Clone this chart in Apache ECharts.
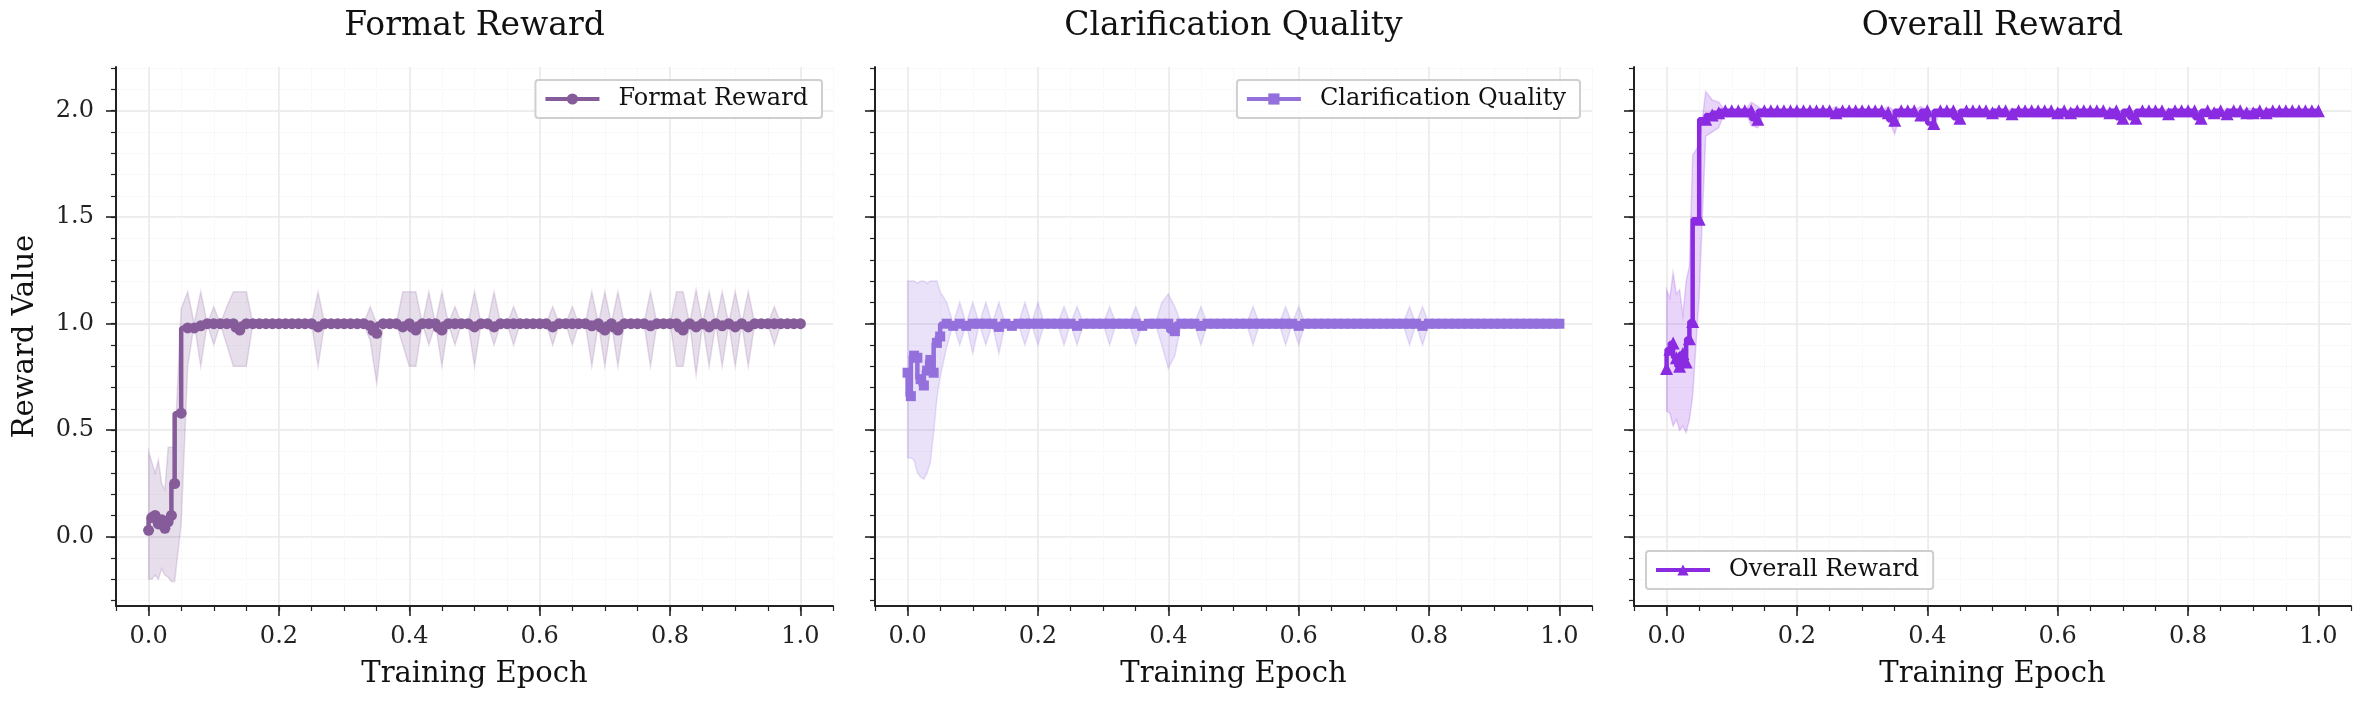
<!DOCTYPE html>
<html>
<head>
<meta charset="utf-8">
<title>Reward curves</title>
<script src="https://cdn.jsdelivr.net/npm/echarts@6/dist/echarts.min.js"></script>
<style>
  html, body { margin: 0; padding: 0; background: #fff; }
  #chart { width: 2364px; height: 706px; }
</style>
</head>
<body>
<div id="chart"></div>
<script>
// epochs for Format Reward / Overall Reward
var epochsA = [0, 0.005, 0.01, 0.015, 0.02, 0.025, 0.03, 0.035, 0.04,
  0.05, 0.06, 0.07, 0.08, 0.09, 0.1, 0.11, 0.12, 0.13, 0.14,
  0.15, 0.16, 0.17, 0.18, 0.19, 0.2, 0.21, 0.22, 0.23, 0.24,
  0.25, 0.26, 0.27, 0.28, 0.29, 0.3, 0.31, 0.32, 0.33, 0.34,
  0.35, 0.36, 0.37, 0.38, 0.39, 0.4, 0.41, 0.42, 0.43, 0.44,
  0.45, 0.46, 0.47, 0.48, 0.49, 0.5, 0.51, 0.52, 0.53, 0.54,
  0.55, 0.56, 0.57, 0.58, 0.59, 0.6, 0.61, 0.62, 0.63, 0.64,
  0.65, 0.66, 0.67, 0.68, 0.69, 0.7, 0.71, 0.72, 0.73, 0.74,
  0.75, 0.76, 0.77, 0.78, 0.79, 0.8, 0.81, 0.82, 0.83, 0.84,
  0.85, 0.86, 0.87, 0.88, 0.89, 0.9, 0.91, 0.92, 0.93, 0.94,
  0.95, 0.96, 0.97, 0.98, 0.99, 1.0];
// epochs for Clarification Quality
var epochsB = [0, 0.005, 0.01, 0.015, 0.02, 0.025, 0.03, 0.035, 0.04, 0.045,
  0.05, 0.06, 0.07, 0.08, 0.09, 0.1, 0.11, 0.12, 0.13, 0.14,
  0.15, 0.16, 0.17, 0.18, 0.19, 0.2, 0.21, 0.22, 0.23, 0.24,
  0.25, 0.26, 0.27, 0.28, 0.29, 0.3, 0.31, 0.32, 0.33, 0.34,
  0.35, 0.36, 0.37, 0.38, 0.39, 0.4, 0.41, 0.42, 0.43, 0.44,
  0.45, 0.46, 0.47, 0.48, 0.49, 0.5, 0.51, 0.52, 0.53, 0.54,
  0.55, 0.56, 0.57, 0.58, 0.59, 0.6, 0.61, 0.62, 0.63, 0.64,
  0.65, 0.66, 0.67, 0.68, 0.69, 0.7, 0.71, 0.72, 0.73, 0.74,
  0.75, 0.76, 0.77, 0.78, 0.79, 0.8, 0.81, 0.82, 0.83, 0.84,
  0.85, 0.86, 0.87, 0.88, 0.89, 0.9, 0.91, 0.92, 0.93, 0.94,
  0.95, 0.96, 0.97, 0.98, 0.99, 1.0];

// Format Reward
var formatMean = [0.03, 0.09, 0.1, 0.06, 0.08, 0.04, 0.07, 0.1, 0.25,
  0.58, 0.98, 0.98, 0.99, 1, 1, 1, 1, 1, 0.97,
  1, 1, 1, 1, 1, 1, 1, 1, 1, 1,
  1, 0.985, 1, 1, 1, 1, 1, 1, 1, 0.99,
  0.955, 1, 1, 1, 0.985, 1, 0.97, 1, 1, 1,
  0.97, 1, 1, 1, 1, 0.985, 1, 1, 0.985, 1,
  1, 1, 1, 1, 1, 1, 1, 0.985, 1, 1,
  1, 1, 1, 0.99, 1, 0.97, 1, 0.97, 1, 1,
  1, 1, 0.99, 1, 1, 1, 1, 0.97, 1, 0.985,
  1, 0.985, 1, 0.99, 1, 0.985, 1, 0.985, 1, 1,
  1, 1, 1, 1, 1, 1];
var formatLow = [-0.2, -0.2, -0.18, -0.2, -0.15, -0.18, -0.19, -0.21, -0.21,
  0.06, 0.8, 1, 0.8, 1, 0.9, 1, 0.9, 0.8, 0.8,
  0.8, 1, 1, 1, 1, 1, 1, 1, 1, 1,
  1, 0.8, 1, 1, 1, 1, 1, 1, 1, 0.92,
  0.72, 1, 1, 1, 0.9, 0.8, 0.8, 1, 0.9, 1,
  0.8, 1, 0.9, 1, 1, 0.8, 1, 1, 0.9, 1,
  1, 0.9, 1, 1, 1, 1, 1, 0.9, 1, 1,
  0.9, 1, 1, 0.8, 1, 0.8, 1, 0.8, 1, 1,
  1, 1, 0.8, 1, 1, 1, 0.8, 0.8, 1, 0.76,
  1, 0.8, 1, 0.8, 1, 0.8, 1, 0.8, 1, 1,
  1, 0.9, 1, 1, 1, 1];
var formatHigh = [0.4, 0.35, 0.3, 0.36, 0.25, 0.22, 0.42, 0.42, 0.42,
  1.07, 1.15, 1, 1.15, 1, 1.08, 1, 1.08, 1.15, 1.15,
  1.15, 1, 1, 1, 1, 1, 1, 1, 1, 1,
  1, 1.15, 1, 1, 1, 1, 1, 1, 1, 1.08,
  1.0, 1, 1, 1, 1.15, 1.15, 1.15, 1, 1.15, 1,
  1.15, 1, 1.08, 1, 1, 1.15, 1, 1, 1.15, 1,
  1, 1.08, 1, 1, 1, 1, 1, 1.08, 1, 1,
  1.08, 1, 1, 1.15, 1, 1.15, 1, 1.15, 1, 1,
  1, 1, 1.15, 1, 1, 1, 1.15, 1.15, 1, 1.16,
  1, 1.15, 1, 1.15, 1, 1.15, 1, 1.15, 1, 1,
  1, 1.08, 1, 1, 1, 1];

// Clarification Quality
var clarityMean = [0.77, 0.66, 0.85, 0.84, 0.74, 0.71, 0.78, 0.83, 0.77, 0.91,
  0.94, 1, 0.99, 1, 0.99, 1, 1, 1, 1, 0.985,
  1, 0.99, 1, 1, 1, 1, 1, 1, 1, 1,
  1, 0.99, 1, 1, 1, 1, 1, 1, 1, 1,
  1, 0.99, 1, 1, 1, 1, 0.965, 1, 1, 1,
  0.99, 1, 1, 1, 1, 1, 1, 1, 1, 1,
  1, 1, 1, 1, 1, 0.99, 1, 1, 1, 1,
  1, 1, 1, 1, 1, 1, 1, 1, 1, 1,
  1, 1, 1, 1, 0.99, 1, 1, 1, 1, 1,
  1, 1, 1, 1, 1, 1, 1, 1, 1, 1,
  1, 1, 1, 1, 1, 1];
var clarityLow = [0.37, 0.37, 0.36, 0.3, 0.28, 0.27, 0.3, 0.35, 0.49, 0.65,
  0.75, 0.89, 1, 0.9, 1, 0.86, 1, 0.9, 1, 0.86,
  1, 1, 1, 0.9, 1, 0.9, 1, 1, 1, 0.9,
  1, 0.9, 1, 1, 1, 1, 0.9, 1, 1, 1,
  0.9, 1, 1, 1, 0.9, 0.79, 0.85, 1, 1, 1,
  0.9, 1, 1, 1, 1, 1, 1, 1, 0.9, 1,
  1, 1, 1, 0.9, 1, 0.9, 1, 1, 1, 1,
  1, 1, 1, 1, 1, 1, 1, 1, 1, 1,
  1, 1, 0.9, 1, 0.9, 1, 1, 1, 1, 1,
  1, 1, 1, 1, 1, 1, 1, 1, 1, 1,
  1, 1, 1, 1, 1, 1];
var clarityHigh = [1.2, 1.2, 1.2, 1.19, 1.2, 1.2, 1.19, 1.2, 1.2, 1.2,
  1.15, 1.1, 1, 1.1, 1, 1.1, 1, 1.1, 1, 1.1,
  1, 1, 1, 1.1, 1, 1.1, 1, 1, 1, 1.08,
  1, 1.08, 1, 1, 1, 1, 1.08, 1, 1, 1,
  1.08, 1, 1, 1, 1.1, 1.14, 1.08, 1, 1, 1,
  1.08, 1, 1, 1, 1, 1, 1, 1, 1.08, 1,
  1, 1, 1, 1.08, 1, 1.08, 1, 1, 1, 1,
  1, 1, 1, 1, 1, 1, 1, 1, 1, 1,
  1, 1, 1.08, 1, 1.08, 1, 1, 1, 1, 1,
  1, 1, 1, 1, 1, 1, 1, 1, 1, 1,
  1, 1, 1, 1, 1, 1];

// Overall Reward
var overallMean = [0.79, 0.88, 0.91, 0.84, 0.8, 0.86, 0.82, 0.93, 1.01,
  1.49, 1.96, 1.98, 1.99, 2, 2, 2, 2, 2, 1.96,
  2, 2, 2, 2, 2, 2, 2, 2, 2, 2,
  2, 1.99, 2, 2, 2, 2, 2, 2, 2, 1.99,
  1.955, 2, 2, 2, 1.98, 2, 1.94, 2, 2, 2,
  1.965, 2, 2, 2, 2, 1.99, 2, 2, 1.985, 2,
  2, 2, 2, 2, 2, 1.99, 2, 1.99, 2, 2,
  2, 2, 2, 1.99, 2, 1.965, 2, 1.965, 2, 2,
  2, 2, 1.985, 2, 2, 2, 2, 1.965, 2, 1.99,
  2, 1.985, 2, 2, 1.99, 1.99, 2, 1.99, 2, 2,
  2, 2, 2, 2, 2, 2];
var overallLow = [0.59, 0.58, 0.52, 0.55, 0.5, 0.52, 0.49, 0.55, 0.66,
  1.13, 1.88, 1.9, 1.92, 2, 2, 2, 2, 1.93, 1.92,
  2, 2, 2, 2, 2, 2, 2, 2, 2, 2,
  2, 1.97, 2, 2, 2, 2, 2, 2, 2, 1.96,
  1.89, 2, 2, 2, 1.95, 2, 1.92, 2, 2, 2,
  1.94, 2, 2, 2, 2, 1.97, 2, 2, 1.96, 2,
  2, 2, 2, 2, 2, 1.97, 2, 1.97, 2, 2,
  2, 2, 2, 1.97, 2, 1.94, 2, 1.94, 2, 2,
  2, 2, 1.96, 2, 2, 2, 2, 1.94, 2, 1.97,
  2, 1.96, 2, 2, 1.97, 1.97, 2, 1.97, 2, 2,
  2, 2, 2, 2, 2, 2];
var overallHigh = [1.16, 1.12, 1.24, 1.14, 1.16, 1.04, 1.2, 1.27, 1.79,
  1.84, 2.09, 2.05, 2.04, 2, 2, 2, 2, 2.04, 2.02,
  2, 2, 2, 2, 2, 2, 2, 2, 2, 2,
  2, 2.02, 2, 2, 2, 2, 2, 2, 2, 2.02,
  2.0, 2, 2, 2, 2.02, 2, 2.0, 2, 2, 2,
  2.0, 2, 2, 2, 2, 2.01, 2, 2, 2.01, 2,
  2, 2, 2, 2, 2, 2.01, 2, 2.01, 2, 2,
  2, 2, 2, 2.01, 2, 2.0, 2, 2.0, 2, 2,
  2, 2, 2.01, 2, 2, 2, 2, 2.0, 2, 2.01,
  2, 2.01, 2, 2, 2.01, 2.01, 2, 2.01, 2, 2,
  2, 2, 2, 2, 2, 2];

var panelTitles = ["Format Reward", "Clarification Quality", "Overall Reward"];
var xMajorTicks = [0, 0.2, 0.4, 0.6, 0.8, 1.0];
var xMinorTicks = [-0.05, 0, 0.05, 0.1, 0.15, 0.2, 0.25, 0.3, 0.35, 0.4, 0.45, 0.5,
  0.55, 0.6, 0.65, 0.7, 0.75, 0.8, 0.85, 0.9, 0.95, 1.0, 1.05];
var yMajorTicks = [0, 0.5, 1.0, 1.5, 2.0];
var yMinorTicks = [-0.3, -0.2, -0.1, 0, 0.1, 0.2, 0.3, 0.4, 0.5, 0.6, 0.7, 0.8, 0.9, 1.0,
  1.1, 1.2, 1.3, 1.4, 1.5, 1.6, 1.7, 1.8, 1.9, 2.0, 2.1, 2.2];

var FONT = "DejaVu Serif";
var INK = "#222";

var panels = [
  { name: "Format Reward", xs: epochsA, mean: formatMean, lo: formatLow, hi: formatHigh,
    color: "#855c99", band: "rgba(133,92,153,0.2)", symbol: "circle", size: 11 },
  { name: "Clarification Quality", xs: epochsB, mean: clarityMean, lo: clarityLow, hi: clarityHigh,
    color: "#9370db", band: "rgba(147,112,219,0.2)", symbol: "rect", size: 10 },
  { name: "Overall Reward", xs: epochsA, mean: overallMean, lo: overallLow, hi: overallHigh,
    color: "#8a2be2", band: "rgba(138,43,226,0.2)", symbol: "triangle", size: 13 }
];

var gridLefts = [116, 875, 1634];
var GRID_W = 717, GRID_TOP = 67, GRID_H = 539;

var grids = [], xAxes = [], yAxes = [], series = [], titles = [], legends = [];

panels.forEach(function (p, i) {
  grids.push({ left: gridLefts[i], top: GRID_TOP, width: GRID_W, height: GRID_H });

  titles.push({
    text: panelTitles[i],
    left: gridLefts[i] + GRID_W / 2, top: 10, textAlign: "center", padding: 0,
    textStyle: { fontFamily: FONT, fontSize: 33, fontWeight: "normal", color: "#111" }
  });

  // main x axis
  xAxes.push({
    type: "value", gridIndex: i, position: "bottom", min: -0.05, max: 1.05,
    axisLine: { onZero: false, lineStyle: { color: INK, width: 2 } },
    axisTick: { customValues: xMajorTicks, length: 10, lineStyle: { color: INK, width: 1.6 } },
    axisLabel: { customValues: xMajorTicks, margin: 19, fontFamily: FONT, fontSize: 24, color: INK,
      formatter: function (v) { return v.toFixed(1); } },
    splitLine: { show: true, lineStyle: { color: "#e6e6e6", width: 1.5 } },
    name: "Training Epoch", nameLocation: "middle", nameGap: 54,
    nameTextStyle: { fontFamily: FONT, fontSize: 29, color: "#111" }
  });
  // minor x ticks
  xAxes.push({
    type: "value", gridIndex: i, position: "bottom", min: -0.05, max: 1.05,
    axisLine: { show: false, onZero: false },
    axisTick: { customValues: xMinorTicks, length: 5, lineStyle: { color: INK, width: 1.2 } },
    axisLabel: { show: false },
    splitLine: { show: true, lineStyle: { color: "#f3f3f3", width: 1, type: "dotted" } }
  });

  // main y axis
  yAxes.push({
    type: "value", gridIndex: i, position: "left", min: -0.325, max: 2.205,
    axisLine: { show: true, onZero: false, lineStyle: { color: INK, width: 2 } },
    axisTick: { show: true, customValues: yMajorTicks, length: 10, lineStyle: { color: INK, width: 1.6 } },
    axisLabel: { show: i === 0, customValues: yMajorTicks, margin: 22, fontFamily: FONT, fontSize: 24, color: INK,
      formatter: function (v) { return v.toFixed(1); } },
    splitLine: { show: true, lineStyle: { color: "#e6e6e6", width: 1.5 } },
    name: i === 0 ? "Reward Value" : "", nameLocation: "middle", nameGap: 76,
    nameTextStyle: { fontFamily: FONT, fontSize: 29, color: "#111" }
  });
  // minor y ticks
  yAxes.push({
    type: "value", gridIndex: i, position: "left", min: -0.325, max: 2.205,
    axisLine: { show: false, onZero: false },
    axisTick: { show: true, customValues: yMinorTicks, length: 5, lineStyle: { color: INK, width: 1.2 } },
    axisLabel: { show: false },
    splitLine: { show: true, lineStyle: { color: "#f3f3f3", width: 1, type: "dotted" } }
  });

  // shaded band (mean ± std)
  series.push({
    name: p.name + " band", type: "custom", xAxisIndex: i * 2, yAxisIndex: i * 2,
    silent: true, z: 1, clip: true,
    data: [[p.xs[0], p.lo[0]]],
    renderItem: function (params, api) {
      var pts = [];
      for (var k = 0; k < p.xs.length; k++) pts.push(api.coord([p.xs[k], p.hi[k]]));
      for (var m = p.xs.length - 1; m >= 0; m--) pts.push(api.coord([p.xs[m], p.lo[m]]));
      return { type: "polygon", shape: { points: pts },
        style: { fill: p.band, stroke: p.band, lineWidth: 1.5 } };
    }
  });

  // mean line
  series.push({
    name: p.name, type: "line", xAxisIndex: i * 2, yAxisIndex: i * 2,
    step: "start", z: 3,
    data: p.xs.map(function (x, k) { return [x, p.mean[k]]; }),
    symbol: p.symbol, symbolSize: p.size, showSymbol: true,
    lineStyle: { color: p.color, width: 4.5 },
    itemStyle: { color: p.color, borderWidth: 0 }
  });
});

var legendBase = {
  orient: "horizontal", itemWidth: 54, itemHeight: 14,
  backgroundColor: "rgba(255,255,255,0.85)", borderColor: "#cfcfcf", borderWidth: 2, borderRadius: 3,
  padding: [7, 14, 7, 8],
  lineStyle: { width: 4 },
  textStyle: { fontFamily: FONT, fontSize: 24, color: "#111", padding: [0, 0, 0, 14] }
};
legends.push(Object.assign({}, legendBase, { data: ["Format Reward"], right: 2364 - 822, top: 80 }));
legends.push(Object.assign({}, legendBase, { data: ["Clarification Quality"], right: 2364 - 1580, top: 80 }));
legends.push(Object.assign({}, legendBase, { data: ["Overall Reward"], left: 1646, top: 551 }));

var chart = echarts.init(document.getElementById("chart"), null, { renderer: "canvas" });
chart.setOption({
  backgroundColor: "#ffffff",
  animation: false,
  title: titles,
  legend: legends,
  grid: grids,
  xAxis: xAxes,
  yAxis: yAxes,
  series: series
});
</script>
</body>
</html>
